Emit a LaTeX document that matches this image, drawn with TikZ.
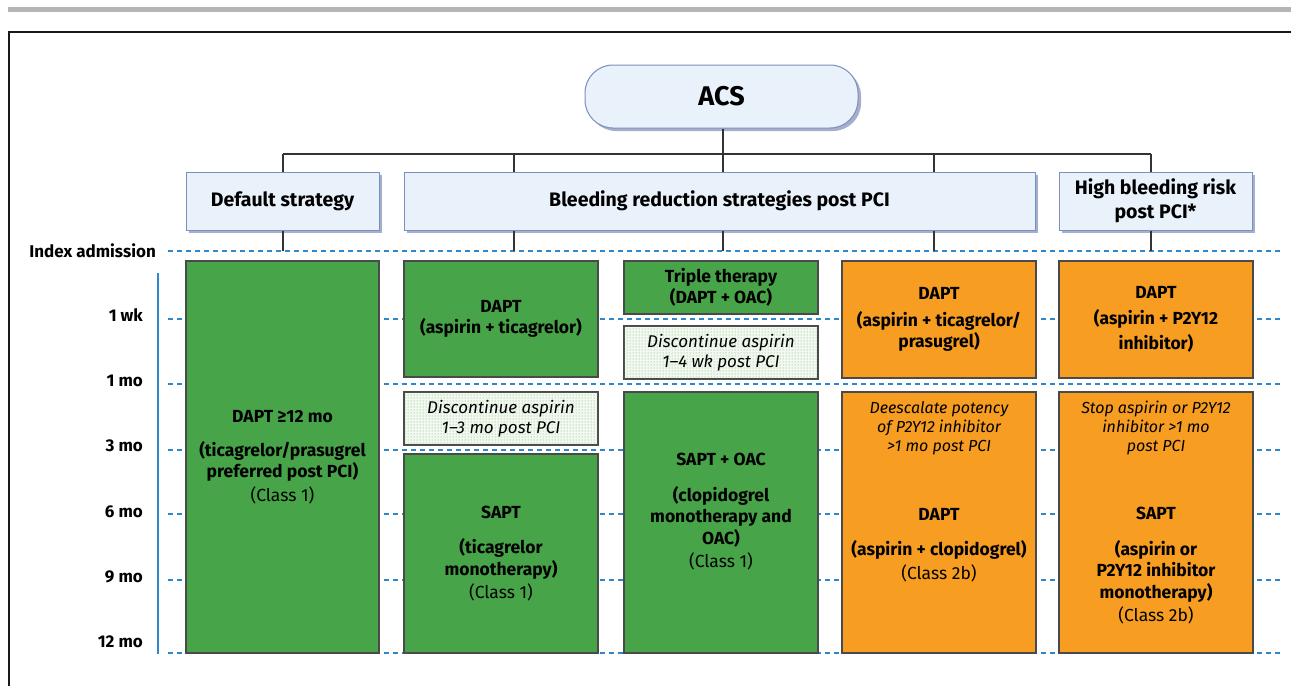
\documentclass[tikz,border=0pt]{standalone}
\usepackage{fontspec}
\setmainfont{Fira Sans}
\usetikzlibrary{patterns,shadows}

\definecolor{hdrfill}{HTML}{E9F1FA}
\definecolor{hdrline}{HTML}{7D8FBF}
\definecolor{hdrshadow}{HTML}{8E9AC0}
\definecolor{dgreen}{HTML}{47A448}
\definecolor{dorange}{HTML}{F79D21}
\definecolor{dashblue}{HTML}{2F88CC}
\definecolor{dotgreen}{HTML}{5DB05D}
\definecolor{dotbg}{HTML}{F3F9F1}
\definecolor{boxline}{HTML}{4A4A4A}
\definecolor{topbar}{HTML}{B5B5B5}

\begin{document}
\begin{tikzpicture}[x=1pt, y=-1pt,
    header/.style={rectangle, draw=hdrline, fill=hdrfill, line width=1pt, align=center, inner sep=2pt,
        font=\fontsize{19.5}{24}\selectfont\bfseries,
        drop shadow={shadow xshift=3pt, shadow yshift=-3pt, fill=hdrshadow, opacity=0.8}},
    greenbox/.style={rectangle, draw=boxline, line width=1.2pt, fill=dgreen, align=center, inner sep=2pt,
        font=\fontsize{17.5}{21.5}\selectfont\bfseries},
    orangebox/.style={greenbox, fill=dorange},
    notebox/.style={greenbox, fill=dotbg, postaction={pattern=dots, pattern color=dotgreen},
        font=\fontsize{17}{20}\selectfont\itshape},
    boxtext/.style={align=center, inner sep=0pt, font=\fontsize{17.5}{21.5}\selectfont\bfseries},
    smallnote/.style={align=center, inner sep=0pt, font=\fontsize{16}{19}\selectfont\itshape},
    tree/.style={draw=black!80, line width=1.2pt},
    gridline/.style={draw=dashblue, line width=1.8pt, dash pattern=on 5pt off 4pt},
    timelabel/.style={anchor=east, inner sep=0pt, font=\fontsize{17}{20}\selectfont\bfseries}
]
    \useasboundingbox (0,0) rectangle (1291,686);

    % Frame
    \draw[topbar, line width=5pt] (8,9.5) -- (1291,9.5);
    \draw[black!90, line width=2pt] (9,686) -- (9,32) -- (1291,32);

    % Time scale
    \node[timelabel] (lidx) at (156,251) {Index admission};
    \coordinate (idx) at (168,251);
    \draw[gridline] (idx) -- (1281,251);
    \foreach \t/\ly/\gy [count=\i] in {1 wk/315/319, 1 mo/381/384, 3 mo/446/450, 6 mo/512/514, 9 mo/577/580, 12 mo/642/653} {
        \node[timelabel] (t\i) at (143,\ly) {\t};
        \draw[gridline] (168,\gy) -- (1281,\gy);
    }
    \draw[dashblue, line width=2pt] (158,273) -- (158,654);

    % Top: ACS
    \node[header, rounded corners=28pt, minimum width=273, minimum height=63, font=\fontsize{27}{30}\selectfont\bfseries] (acs) at (721.5,96.5) {ACS};

    % Strategy headers
    \node[header, minimum width=193, minimum height=58] (hdflt) at (282.5,201) {Default strategy};
    \node[header, minimum width=631, minimum height=58] (hbleed) at (719.5,201) {Bleeding reduction strategies post PCI};
    \node[header, minimum width=193, minimum height=58] (hhbr) at (1155.5,201) {High bleeding risk\\post PCI*};

    % Tree
    \coordinate (j1) at (283,154);
    \coordinate (j2) at (514,154);
    \coordinate (j3) at (723,154);
    \coordinate (j4) at (934,154);
    \coordinate (j5) at (1151,154);
    \draw[tree] (acs.south -| j3) -- (j3);
    \draw[tree] (j1) -- (j5);
    \draw[tree] (j1) -- (j1 |- hdflt.north);
    \draw[tree] (j2) -- (j2 |- hbleed.north);
    \draw[tree] (j3) -- (j3 |- hbleed.north);
    \draw[tree] (j4) -- (j4 |- hbleed.north);
    \draw[tree] (j5) -- (j5 |- hhbr.north);
    \draw[tree] (j1 |- hdflt.south) -- (j1 |- idx);
    \draw[tree] (j2 |- hbleed.south) -- (j2 |- idx);
    \draw[tree] (j3 |- hbleed.south) -- (j3 |- idx);
    \draw[tree] (j4 |- hbleed.south) -- (j4 |- idx);
    \draw[tree] (j5 |- hhbr.south) -- (j5 |- idx);

    % Default strategy
    \node[greenbox, minimum width=193, minimum height=392] (dflt) at (282.5,457)
        {DAPT ≥12 mo\\[12pt](ticagrelor/prasugrel\\preferred post PCI)\\[2pt]\mdseries (Class 1)};

    % Bleeding reduction: ticagrelor monotherapy
    \node[greenbox, minimum width=194, minimum height=116] (dapt2) at (501,319) {DAPT\\(aspirin + ticagrelor)};
    \node[notebox, minimum width=194, minimum height=53] (stop2) at (501,418.5) {Discontinue aspirin\\1–3 mo post PCI};
    \node[greenbox, minimum width=194, minimum height=199] (sapt2) at (501,553.5)
        {SAPT\\[14pt](ticagrelor\\monotherapy)\\[2pt]\mdseries (Class 1)};

    % Bleeding reduction: OAC
    \node[greenbox, minimum width=194, minimum height=53] (triple) at (721,287.5) {Triple therapy\\(DAPT + OAC)};
    \node[notebox, minimum width=194, minimum height=53] (stop3) at (721,352.5) {Discontinue aspirin\\1–4 wk post PCI};
    \node[greenbox, minimum width=194, minimum height=261] (sapt3) at (721,522.5) {};
    \node[boxtext] (sapt3txt) at (721,512)
        {SAPT + OAC\\[14pt](clopidogrel\\monotherapy and\\OAC)\\[2pt]\mdseries (Class 1)};

    % Bleeding reduction: deescalation
    \node[orangebox, minimum width=194, minimum height=117] (dapt4) at (939,319.5)
        {DAPT\\[5pt](aspirin + ticagrelor/\\prasugrel)};
    \node[orangebox, minimum width=194, minimum height=261] (deesc4) at (939,522.5) {};
    \node[smallnote] (deesc4note) at (939,428) {Deescalate potency\\of P2Y12 inhibitor\\>1 mo post PCI};
    \node[boxtext] (deesc4txt) at (939,545) {DAPT\\[14pt](aspirin + clopidogrel)\\[2pt]\mdseries (Class 2b)};

    % High bleeding risk
    \node[orangebox, minimum width=194, minimum height=117] (dapt5) at (1156,319.5)
        {DAPT\\[4pt](aspirin + P2Y12\\[4pt]inhibitor)};
    \node[orangebox, minimum width=194, minimum height=261] (stop5) at (1156,522.5) {};
    \node[smallnote] (stop5note) at (1156,428) {Stop aspirin or P2Y12\\inhibitor >1 mo\\post PCI};
    \node[boxtext] (stop5txt) at (1156,566)
        {SAPT\\[14pt](aspirin or\\P2Y12 inhibitor\\monotherapy)\\[2pt]\mdseries (Class 2b)};
\end{tikzpicture}
\end{document}
